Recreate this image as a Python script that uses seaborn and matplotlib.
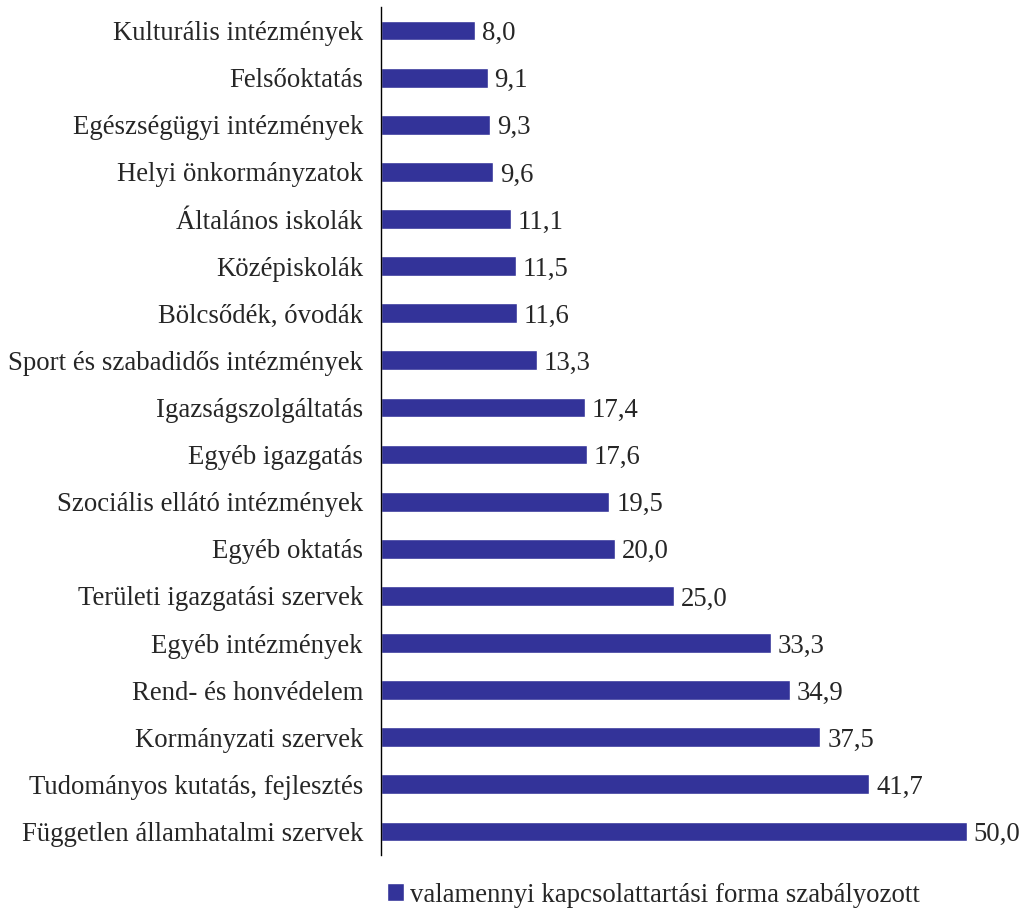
import seaborn as sns
import matplotlib.pyplot as plt
import pandas as pd

categories = [
    "Kulturális intézmények",
    "Felsőoktatás",
    "Egészségügyi intézmények",
    "Helyi önkormányzatok",
    "Általános iskolák",
    "Középiskolák",
    "Bölcsődék, óvodák",
    "Sport és szabadidős intézmények",
    "Igazságszolgáltatás",
    "Egyéb igazgatás",
    "Szociális ellátó intézmények",
    "Egyéb oktatás",
    "Területi igazgatási szervek",
    "Egyéb intézmények",
    "Rend- és honvédelem",
    "Kormányzati szervek",
    "Tudományos kutatás, fejlesztés",
    "Független államhatalmi szervek",
]
values = [8.0, 9.1, 9.3, 9.6, 11.1, 11.5, 11.6, 13.3, 17.4, 17.6,
          19.5, 20.0, 25.0, 33.3, 34.9, 37.5, 41.7, 50.0]
series_name = "valamennyi kapcsolattartási forma szabályozott"

df = pd.DataFrame({"kategoria": categories, "ertek": values})

sns.set_style("white")
plt.rcParams['font.family'] = ['Liberation Serif', 'DejaVu Serif']

fig = plt.figure(figsize=(10.26, 9.13), dpi=100)
ax = fig.add_axes([0.3713, 0.0635, 0.628, 0.9288])

sns.barplot(data=df, x="ertek", y="kategoria", color="#333399", width=0.42,
            orient="h", label=series_name, ax=ax, saturation=1)

lbls = ax.bar_label(ax.containers[0], labels=[f"{v:.1f}".replace(".", ",") for v in values],
                    padding=5, fontsize=19.3)
for t in lbls:
    t.set_va("center_baseline")

ax.set_xlim(0, 55)
ax.set_ylim(17.5, -0.5)
ax.set_xlabel("")
ax.set_ylabel("")
ax.set_xticks([])
ax.tick_params(axis="y", length=0, pad=13, labelsize=19.3)
for s in ["top", "right", "bottom"]:
    ax.spines[s].set_visible(False)
ax.spines["left"].set_color("black")
ax.spines["left"].set_linewidth(1)

if ax.legend_:
    ax.legend_.remove()
h, l = ax.get_legend_handles_labels()
fig.legend(h, l, loc="center left", bbox_to_anchor=(0.377, 0.0197), frameon=False,
           fontsize=19.3, handlelength=0.65, handleheight=0.65, handletextpad=0.2,
           borderaxespad=0, borderpad=0)

fig.savefig("out.png", dpi=100)
